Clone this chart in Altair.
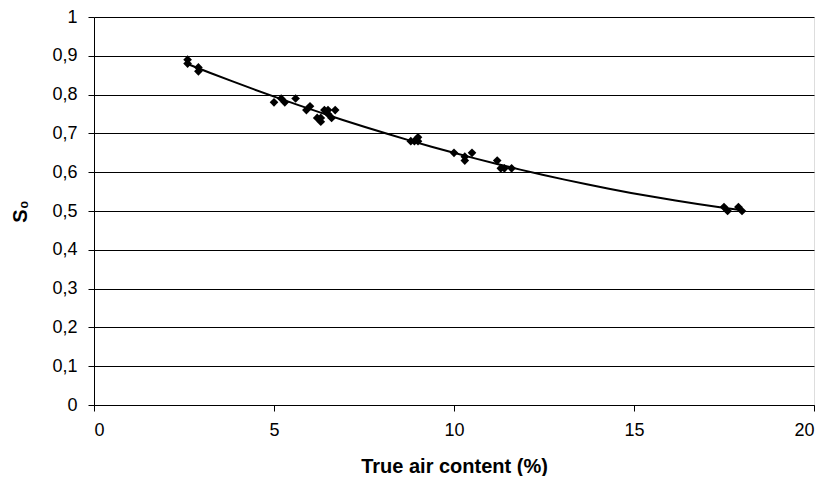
import altair as alt
import pandas as pd

air = [2.6, 2.6, 2.9, 2.9, 5.0, 5.2, 5.3, 5.6, 5.9, 6.0, 6.2, 6.3, 6.3, 6.4, 6.5, 6.5, 6.6, 6.7,
       8.8, 8.9, 9.0, 9.0, 10.0, 10.3, 10.3, 10.5, 11.2, 11.3, 11.4, 11.6, 17.5, 17.6, 17.9, 18.0]
s0 = [0.89, 0.88, 0.87, 0.86, 0.78, 0.79, 0.78, 0.79, 0.76, 0.77, 0.74, 0.73, 0.74, 0.76, 0.75, 0.76, 0.74, 0.76,
      0.68, 0.68, 0.69, 0.68, 0.65, 0.63, 0.64, 0.65, 0.63, 0.61, 0.61, 0.61, 0.51, 0.50, 0.51, 0.50]
x_ticks = [0, 5, 10, 15, 20]
y_ticks = [0, 0.1, 0.2, 0.3, 0.4, 0.5, 0.6, 0.7, 0.8, 0.9, 1.0]

df = pd.DataFrame({"air": air, "s0": s0})

FONT = "Liberation Sans"
common = dict(labelFont=FONT, titleFont=FONT, labelColor="black", titleColor="black",
              domainColor="black", tickColor="black", domainWidth=1, tickWidth=1,
              domainOpacity=1, tickOpacity=1)

x_axis = alt.Axis(values=x_ticks, grid=False, title="True air content (%)",
                  labelFontSize=18, labelPadding=10, tickSize=6, labelOverlap=False,
                  titleFontSize=20, titleFontWeight="bold",
                  titleY=61, titleBaseline="middle", **common)
y_axis = alt.Axis(values=y_ticks, tickCount=11, grid=True, title="S₀",
                  gridColor="black", gridWidth=1, gridOpacity=1,
                  labelExpr="replace(format(datum.value, '.1~f'), '.', ',')",
                  labelFontSize=18, labelPadding=11, tickSize=6, labelOverlap=False,
                  titleFontSize=20, titleFontWeight="bold",
                  titleAngle=-90, titleX=-74, titleY=194,
                  titleAlign="center", titleBaseline="middle", **common)

base = alt.Chart(df).encode(
    x=alt.X("air:Q", scale=alt.Scale(domain=[0, 20], nice=False), axis=x_axis),
    y=alt.Y("s0:Q", scale=alt.Scale(domain=[0, 1], nice=False), axis=y_axis),
)

points = base.mark_point(shape="diamond", filled=True, color="black", size=75, opacity=1)

trend = base.transform_regression("air", "s0", method="poly", order=2).mark_line(
    color="black", strokeWidth=2)

chart = alt.layer(trend, points).properties(
    width=720, height=388,
    autosize=alt.AutoSizeParams(type="none"),
    padding={"left": 86, "top": 9, "right": 4, "bottom": 71},
).configure_view(stroke="black", strokeWidth=1).configure(background="white")

chart.save("out.html", embed_options={"renderer": "svg", "actions": False})
